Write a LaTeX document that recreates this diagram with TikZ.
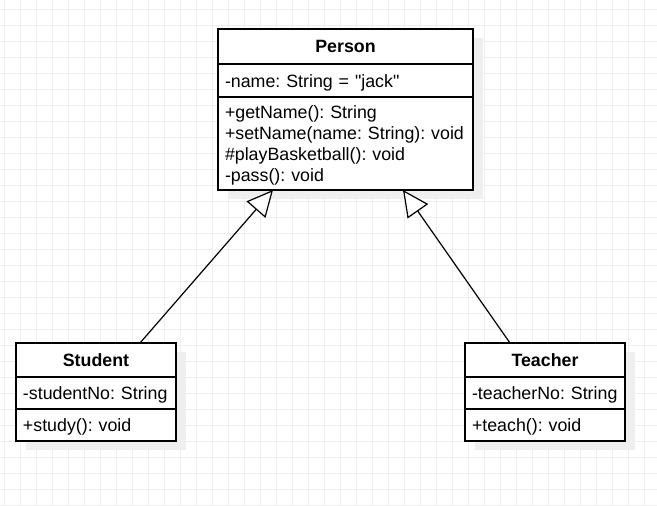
\documentclass[tikz,border=0pt]{standalone}
\usepackage{fontspec}
\setmainfont{Liberation Sans}
\usepackage{tikz}
\usetikzlibrary{arrows.meta,positioning,calc,shadows}
\definecolor{gridgray}{HTML}{EEEEEE}
\definecolor{shadegray}{HTML}{EFEFEF}
\frenchspacing
\tikzset{
  clsbox/.style={
    rectangle, draw=black, fill=white, line width=1.2pt,
    outer sep=0pt, font=\fontsize{17.8}{21}\selectfont,
    drop shadow={shadow xshift=10pt, shadow yshift=-9pt, fill=shadegray, opacity=1}
  },
  clshead/.style={clsbox, inner sep=0pt, font=\fontsize{17.8}{21}\selectfont\bfseries},
  clspart/.style={clsbox, inner xsep=7pt, inner ysep=0pt, align=left,
    execute at begin node={\rule{0pt}{17pt}}},
  inharrow/.style={-{Triangle[fill=white, length=26pt, width=25pt]}, line width=1.2pt, draw=black},
  gridline/.style={draw=gridgray, line width=1pt},
}

\begin{document}
\begin{tikzpicture}[x=1pt, y=-1pt]
  \useasboundingbox (0,0) rectangle (657,506);
  % background grid
  \foreach \gx in {4,20,...,644} \draw[gridline] (\gx,0) -- (\gx,506);
  \foreach \gy in {9,25,...,505} \draw[gridline] (0,\gy) -- (657,\gy);

  % Person
  \node (p1) [clshead, minimum width=255, minimum height=35] at (345.5,46.5) {Person};
  \node (p2) [clspart, text width=241, minimum height=33, below=0pt of p1]
    {-name: String = \textquotedbl jack\textquotedbl};
  \node (p3) [clspart, text width=241, minimum height=93, below=0pt of p2]
    {+getName(): String\\+setName(name: String): void\\\#playBasketball(): void\\-pass(): void};

  % Student
  \node (s1) [clshead, minimum width=160, minimum height=34] at (96,360) {Student};
  \node (s2) [clspart, text width=146, minimum height=32, below=0pt of s1] {-studentNo: String};
  \node (s3) [clspart, text width=146, minimum height=32, below=0pt of s2] {+study(): void};

  % Teacher
  \node (t1) [clshead, minimum width=160, minimum height=34] at (545,360) {Teacher};
  \node (t2) [clspart, text width=146, minimum height=32, below=0pt of t1] {-teacherNo: String};
  \node (t3) [clspart, text width=146, minimum height=32, below=0pt of t2] {+teach(): void};

  \coordinate (s0) at ($(s1.north)+(44,0)$);
  \coordinate (t0) at ($(t1.north)+(-35,0)$);
  \coordinate (pl) at ($(p3.south)+(-72.5,0)$);
  \coordinate (pr) at ($(p3.south)+(57.5,0)$);
  \draw[inharrow] (s0) -- (pl);
  \draw[inharrow] (t0) -- (pr);
\end{tikzpicture}
\end{document}
